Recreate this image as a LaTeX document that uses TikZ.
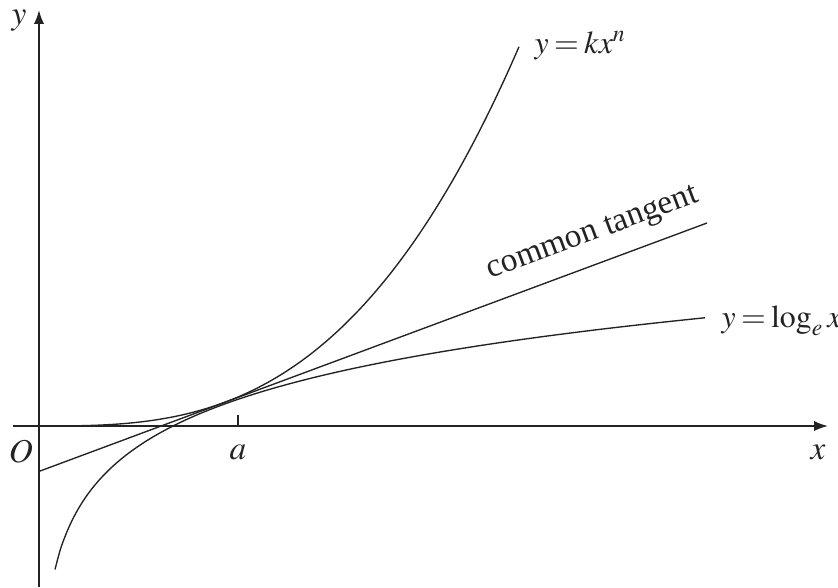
\documentclass[tikz,border=0pt]{standalone}
\usepackage{mathptmx}
\usepackage{fontspec}
\setmainfont{Liberation Serif}
\usepackage{tikz}
\usetikzlibrary{arrows.meta, positioning, calc}
\definecolor{inkgrey}{RGB}{35, 35, 35}
\thickmuskip=3mu\relax

\begin{document}
\begin{tikzpicture}[
    x=0.33pt, y=0.33pt,
    axis/.style={draw=inkgrey, line width=0.6pt,
                 -{Latex[length=4.6pt, width=3.4pt]}},
    curve/.style={draw=inkgrey, line width=0.45pt},
    lbl/.style={inner sep=1pt, font=\fontsize{11}{13}\selectfont, text=inkgrey},
    eqn/.style={lbl, font=\fontsize{10.5}{12}\selectfont}
]
    \useasboundingbox (-39,-161) rectangle (799,426);
    % axes
    \coordinate (origin) at (0,0);
    \coordinate (xstart) at (-26,0);
    \coordinate (xend) at (789,0);
    \coordinate (ystart) at (0,-161);
    \coordinate (yend) at (0,416);
    \draw[axis] (xstart) -- (xend);
    \draw[axis] (ystart) -- (yend);
    \node[lbl] (xlabel) at (779,-26) {$x$};
    \node[lbl] (ylabel) at (-20,405) {$y$};
    \node[lbl] (olabel) at (-18,-26) {$O$};
    % point of contact
    \coordinate (atick) at (199,0);
    \draw[curve, line width=0.5pt] (atick) -- ++(0,11);
    \node[lbl] (alabel) at (199,-26) {$a$};
    % the two curves
    \draw[curve] plot[domain=1:480, samples=120, smooth]
        (\x, {29*pow(\x/199, 2.92)});
    \draw[curve] plot[domain=16:666, samples=120, smooth]
        (\x, {67.5*ln(\x/134)});
    % common tangent
    \coordinate (tstart) at (0,-45.4);
    \coordinate (tend) at (668,203);
    \draw[curve] (tstart) -- (tend)
        node[lbl, pos=0.845, above=4pt, sloped] (tangentlabel) {common tangent};
    \node[eqn, anchor=base west] (powerlabel) at (492,373) {$y=kx^n$};
    \node[eqn, anchor=base west] (loglabel) at (679,99) {$y=\log_e x$};
\end{tikzpicture}
\end{document}
